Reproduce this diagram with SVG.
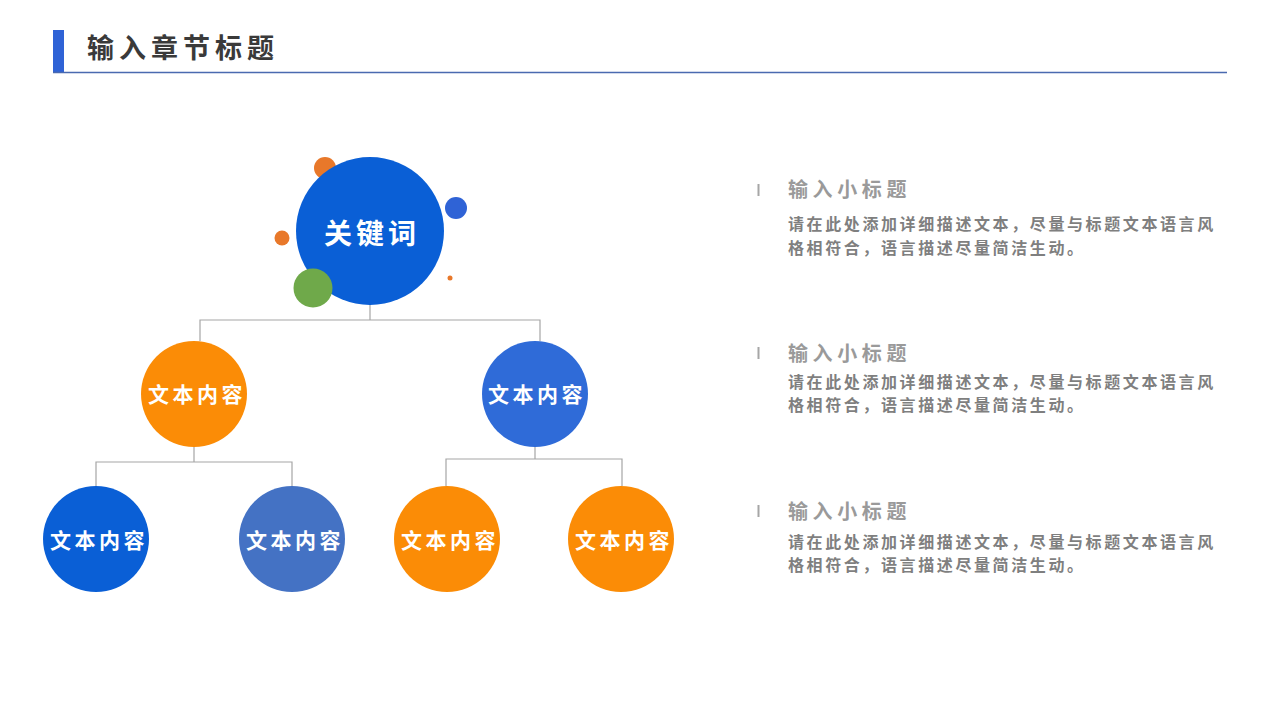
<svg xmlns="http://www.w3.org/2000/svg" width="1280" height="720" viewBox="0 0 1280 720">
<style>
text{font-family:"Noto Sans CJK SC","Noto Sans",sans-serif;font-weight:bold}
.lbl{fill:#fff;font-size:21px;letter-spacing:3.5px;text-anchor:middle}
.h{fill:#9a9a9a;font-size:20px;letter-spacing:4.6px}
.b{fill:#7f7f7f;font-size:16px;letter-spacing:2.6px}
.c{fill:none;stroke:#a6a6a6;stroke-width:1.2}
</style>
<rect width="1280" height="720" fill="#fff"/>
<g id="header">
<rect x="53" y="30" width="11" height="42" fill="#2f63d6"/>
<line x1="53" y1="72.5" x2="1227" y2="72.5" stroke="#4a6ab0" stroke-width="1.5"/>
<text x="87" y="58" font-size="27" fill="#3a3a3a" letter-spacing="5">输入章节标题</text>
</g>
<g id="connectors">
<path class="c" d="M370 304V320M200 341V320H540V341"/>
<path class="c" d="M194 447V462M96 486V462H292V486"/>
<path class="c" d="M535 447V459M446 486V459H622V486"/>
</g>
<g id="deco">
<circle cx="325" cy="168" r="11" fill="#e8782a"/>
<circle cx="456" cy="208" r="11" fill="#2f63d6"/>
<circle cx="282" cy="238" r="7.5" fill="#e8782a"/>
<circle cx="450" cy="278" r="2.5" fill="#e8782a"/>
</g>
<g id="node-root">
<circle cx="370" cy="231" r="74" fill="#0a5fd6"/>
<text x="372" y="244" font-size="28" fill="#fff" text-anchor="middle" letter-spacing="4">关键词</text>
</g>
<circle cx="313" cy="288" r="19.5" fill="#6fa94a"/>
<g id="node-l1">
<circle cx="194" cy="394" r="53" fill="#fb8c06"/>
<text class="lbl" x="197" y="402">文本内容</text>
</g>
<g id="node-r1">
<circle cx="535" cy="394" r="53" fill="#2f6bd8"/>
<text class="lbl" x="537" y="402">文本内容</text>
</g>
<g id="node-ll">
<circle cx="96" cy="539" r="53" fill="#0a5fd6"/>
<text class="lbl" x="99" y="548">文本内容</text>
</g>
<g id="node-lr">
<circle cx="292" cy="539" r="53" fill="#4472c4"/>
<text class="lbl" x="295" y="548">文本内容</text>
</g>
<g id="node-rl">
<circle cx="447" cy="539" r="53" fill="#fb8c06"/>
<text class="lbl" x="450" y="548">文本内容</text>
</g>
<g id="node-rr">
<circle cx="621" cy="539" r="53" fill="#fb8c06"/>
<text class="lbl" x="624" y="548">文本内容</text>
</g>
<g id="item1">
<rect x="757.5" y="184" width="2" height="12" fill="#a6a6a6"/>
<text class="h" x="788" y="197">输入小标题</text>
<text class="b" x="788" y="230">请在此处添加详细描述文本，尽量与标题文本语言风</text>
<text class="b" x="788" y="253.5">格相符合，语言描述尽量简洁生动。</text>
</g>
<g id="item2">
<rect x="757.5" y="347" width="2" height="12" fill="#a6a6a6"/>
<text class="h" x="788" y="361">输入小标题</text>
<text class="b" x="788" y="387.5">请在此处添加详细描述文本，尽量与标题文本语言风</text>
<text class="b" x="788" y="411">格相符合，语言描述尽量简洁生动。</text>
</g>
<g id="item3">
<rect x="757.5" y="505" width="2" height="12" fill="#a6a6a6"/>
<text class="h" x="788" y="519">输入小标题</text>
<text class="b" x="788" y="547.5">请在此处添加详细描述文本，尽量与标题文本语言风</text>
<text class="b" x="788" y="571">格相符合，语言描述尽量简洁生动。</text>
</g>
</svg>
